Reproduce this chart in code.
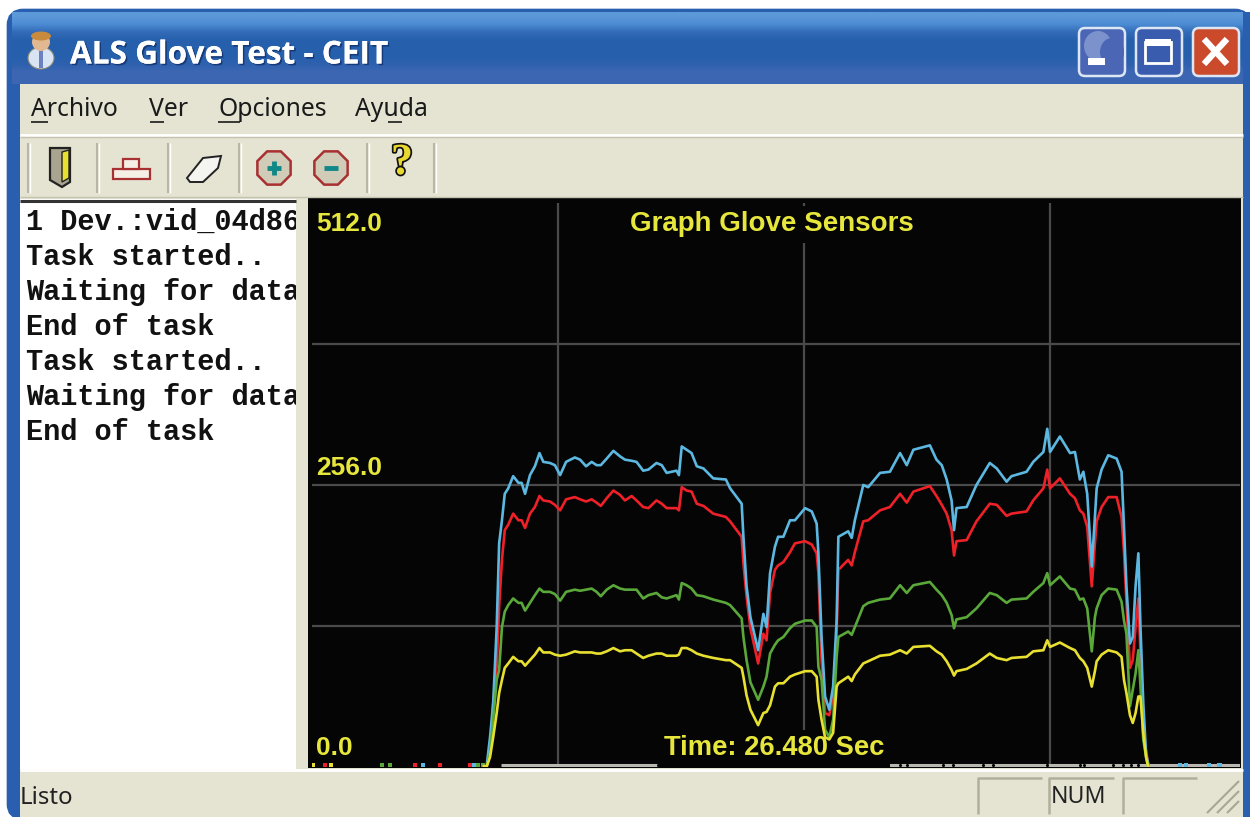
import numpy as np, pandas as pd, matplotlib
matplotlib.use("Agg")
import matplotlib.pyplot as plt, seaborn as sns
import matplotlib.patheffects as pe
from matplotlib.patches import Rectangle, Circle, Polygon, FancyBboxPatch, RegularPolygon, Ellipse

time_s = [4.9,4.98,5.08,5.17,5.27,5.34,5.42,5.50,5.60,5.74,5.89,5.98,6.08,6.22,6.36,6.49,6.60,6.79,6.93,7.08,7.25,7.50,7.65,7.82,7.98,8.12,8.24,8.41,8.60,8.79,8.93,9.12,9.26,9.45,9.60,9.83,9.98,10.12,10.40,10.47,10.55,10.69,10.83,10.98,11.17,11.45,11.81,11.93,12.26,12.31,12.40,12.51,12.73,12.88,12.97,13.07,13.21,13.30,13.45,13.64,13.78,14.07,14.26,14.40,14.45,14.54,14.64,14.76,14.87,14.97,15.02,
 15.30,15.40,15.49,15.73,15.87,16.21,16.49,16.78,16.97,17.16,17.63,17.82,17.97,18.11,18.25,18.32,18.39,18.68,18.96,19.34,19.54,19.82,19.96,20.39,20.58,20.87,20.98,21.06,21.34,21.63,21.77,21.91,22.01,22.12,22.25,22.34,22.39,22.53,22.72,22.96,23.10,23.17,23.24,23.34,23.42,23.50,23.58,23.64,23.72,23.80,23.86]
sensor_blue = [1,0,27,58,127,203,224,248,253,264,258,258,248,265,273,285,277,276,274,265,277,281,279,273,277,274,274,280,287,282,279,278,277,269,270,276,274,267,269,265,291,288,285,273,271,262,261,253,239,209,164,136,106,139,127,176,200,209,209,224,224,235,232,221,194,118,64,52,73,133,209,
 214,208,224,256,254,267,268,285,274,288,292,279,274,261,242,215,235,236,256,276,271,259,264,268,277,286,307,286,300,285,286,261,268,248,182,227,253,270,283,280,268,218,164,112,118,164,194,127,58,12,3]
sensor_red = [1,0,12,58,91,146,188,215,220,230,224,224,217,230,236,246,242,241,238,233,243,245,243,241,243,240,237,244,251,247,242,246,242,236,235,242,239,235,235,233,254,251,250,239,237,230,227,223,209,185,155,126,94,121,115,158,179,183,186,195,203,205,202,194,176,97,49,47,64,121,179,
 188,183,195,223,224,233,236,248,240,250,255,246,238,230,215,192,205,206,223,239,238,228,230,232,242,253,270,253,262,248,244,233,230,218,164,203,223,236,245,245,227,195,150,90,97,127,153,103,27,15,2]
sensor_green = [1,0,12,43,79,88,127,141,147,153,149,149,142,149,156,162,159,159,157,151,159,161,160,161,162,159,155,161,165,162,161,161,161,153,156,158,154,153,156,152,167,165,162,156,155,152,149,147,135,118,97,77,61,73,82,103,111,115,118,126,130,133,133,127,91,79,34,27,43,100,118,
 123,120,127,146,149,152,153,165,158,165,168,161,156,149,138,126,134,136,144,158,156,149,152,153,159,167,176,165,173,162,161,152,153,144,105,136,144,156,162,161,150,133,121,55,70,85,106,73,25,9,0]
sensor_yellow = [1,0,9,27,49,67,79,90,94,100,96,96,92,97,102,108,104,104,102,101,102,105,104,104,104,103,103,105,108,105,106,106,103,99,101,103,103,101,101,102,108,108,106,103,101,99,97,97,90,82,65,52,38,49,50,56,73,76,76,82,84,87,87,82,61,43,27,25,31,73,76,
 82,78,84,94,96,101,102,106,103,109,110,105,102,96,88,83,87,89,94,103,99,97,99,100,105,106,115,109,113,108,106,99,96,90,73,87,96,102,106,104,100,79,67,47,40,49,64,64,31,9,0]
series_names = ["red","blue","green","yellow"]
series_colors = ["#ee2028","#5cb8e0","#5aa83a","#e8e030"]
# small blips along the zero line
blip_t = [0.03,0.37,0.54,2.0,2.23,2.94,3.17,3.65,4.51,4.62,4.74,4.88,24.76,24.94,25.6,25.9]
blip_c = ["yellow","red","yellow","green","green","red","blue","red","red","blue","green","green","blue","blue","blue","blue"]
gap_t = [9.87,10.41,10.96,11.58,11.93,12.21,12.72,13.23,13.89,14.18,15.0,15.26,15.4,16.12,16.35,16.77,16.97,18.0,18.29,19.14,19.43,20.97,21.91,22.03,22.85,23.14,23.37,23.57]
log_lines = ["1 Dev.:vid_04d86","Task started..","Waiting for data","End of task","Task started..","Waiting for data","End of task"]
menu_items = ["Archivo","Ver","Opciones","Ayuda"]
y_labels = ["512.0","256.0","0.0"]
status_text = "Listo"
BG="#e5e4d3"; YEL="#e6e63c"; GRID="#4a4a4a"

sns.set_theme(style="white")
fig = plt.figure(figsize=(12.5,8.17), dpi=100, facecolor="white")
ch = fig.add_axes([0,0,1,1]); ch.set_xlim(0,1250); ch.set_ylim(817,0); ch.axis("off")

def R(x0,y0,x1,y1,c,ec="none",lw=0,z=1,**k):
    ch.add_patch(Rectangle((x0,y0),x1-x0,y1-y0,fc=c,ec=ec,lw=lw,zorder=z,**k))
def L(xs,ys,c,lw=1.5,z=3):
    ch.plot(xs,ys,color=c,lw=lw,zorder=z,solid_capstyle="butt")

# window frame
ch.add_patch(FancyBboxPatch((15,17),1228,795,boxstyle="round,pad=0,rounding_size=8",fc="#2a5fb0",ec="#2a5fb0",lw=12,zorder=0.5))
grad=np.array([[0.36,0.60,0.85],[0.30,0.55,0.83],[0.20,0.42,0.72],[0.15,0.38,0.68],[0.15,0.38,0.68],[0.15,0.38,0.68],[0.18,0.38,0.68],[0.24,0.40,0.70],[0.24,0.40,0.70]])[:,None,:]
ch.imshow(grad,extent=(12,1243,84,12),aspect="auto",zorder=0.8,interpolation="bilinear")
ch.set_xlim(0,1250); ch.set_ylim(817,0)
R(20,84,1243,817,BG)
L([20,1243],[135,135],"white",2); L([20,1243],[137,137],"#c4c3b0",1)
L([20,1243],[197,197],"#c4c3b0",1)

# title bar
ch.add_patch(Ellipse((41,58),26,22,fc="#d8e4f4",ec="#8a8a7a",lw=0.8,zorder=3)); R(39,50,43,68,"#6a80c0",z=4)
ch.add_patch(Circle((41,42),9,fc="#e2b890",ec="none",zorder=4))
ch.add_patch(Ellipse((41,36),20,9,fc="#c88a3c",ec="none",zorder=5))
ch.text(70,55,"ALS Glove Test - CEIT",family="Open Sans",weight="bold",fontsize=22.7,color="white",va="center",zorder=5,
        path_effects=[pe.withSimplePatchShadow(offset=(1.2,-1.2),shadow_rgbFace="#12306a",alpha=0.8),pe.Normal()])
for x0,fc in [(1077,"#4a66b4"),(1134,"#3a5cae"),(1191,"#cc4a2c")]:
    ch.add_patch(FancyBboxPatch((x0+2,28),46,48,boxstyle="round,pad=0,rounding_size=6",fc=fc,ec="#dde6f4",lw=1.8,zorder=3))
ch.add_patch(Ellipse((1098,46),28,30,fc="#7c92cc",ec="none",zorder=3.5)); ch.add_patch(Ellipse((1112,52),24,28,fc="#4a66b4",ec="none",zorder=3.6))
R(1088,58,1105,65,"white",z=4)
R(1145,42,1171,63,"none",ec="white",lw=2,z=4); R(1145,39,1171,46,"white",z=4)
L([1204,1227],[39,64],"white",4.5,4); L([1204,1227],[64,39],"white",4.5,4)

# menu
menu_x=[31,149,218,355]
for s,x in zip(menu_items,menu_x):
    ch.text(x,109,s,family="Noto Sans",fontsize=17.8,color="#1a1a1a",va="center",zorder=5)
for x0,x1 in [(31,48),(150,164),(218,240),(388,402)]:
    L([x0,x1],[122,122],"#1a1a1a",1.2)

# toolbar
for x in [28,97,168,239,367,434]:
    L([x,x],[143,193],"#b8b7a4",1.5); L([x+2,x+2],[143,193],"white",1)
ch.add_patch(Polygon([(50,148),(70,148),(70,182),(62,187),(50,180)],fc="#a8a490",ec="#222",lw=1.6,zorder=4))
ch.add_patch(Polygon([(62,152),(69,150),(69,178),(62,182)],fc="#e8e030",ec="#222",lw=1,zorder=5))
R(113,169,150,179,"#f4f0e6",ec="#a83030",lw=1.6,z=4); R(123,159,139,169,"#f4f0e6",ec="#a83030",lw=1.6,z=4)
ch.add_patch(Polygon([(187,178),(203,158),(221,156),(218,168),(203,182),(190,182)],fc="#f4f4f0",ec="#222",lw=1.4,zorder=4))
for cx in (274,331):
    ch.add_patch(RegularPolygon((cx,168),8,radius=18,orientation=np.pi/8,fc="#d0ccb8",ec="#a83030",lw=1.8,zorder=4))
    L([cx-7,cx+7],[168,168],"#108888",3.5,5)
L([274,274],[161,175],"#108888",3.5,5)
tq=ch.text(402,163,"?",family="Liberation Serif",weight="bold",fontsize=32,color="#e8d830",ha="center",va="center",zorder=5)
tq.set_path_effects([pe.withStroke(linewidth=2.5,foreground="#111")])

# log panel
R(20,199,296,769,"white"); L([20,296],[201,201],"#333",2.2)
clip=Rectangle((20,199),276,570,transform=ch.transData)
for i,s in enumerate(log_lines):
    t=ch.text(26,222+35*i,s,family="Liberation Mono",weight="bold",fontsize=20.6,color="#111",va="center",zorder=5)
    t.set_clip_on(True)
    t.set_clip_path(clip)

# status bar
R(308,198,1241,768,"#050505",z=1)
L([20,1243],[770,770],"white",2)
ch.text(20,798,status_text,family="Noto Sans",fontsize=17.3,color="#222",va="center",zorder=5)
for x0,x1 in [(978,1042),(1049,1114),(1123,1197)]:
    L([x0,x0,x1],[814,778,778],"#b0af9c",1.8)
ch.text(1051,797,"NUM",family="Noto Sans",fontsize=16.6,color="#222",va="center",zorder=5)
for d in (8,18,28):
    L([1243-d-8,1243-4],[813,813-d-4],"#a8a794",1.5)
R(1243,12,1250,817,"#2a5fb0",z=0.9)

# data axes
ax = fig.add_axes([312/1250,1-767/817,(1240-312)/1250,(767-203)/817], facecolor="#050505")
ax.set_xlim(0,26.48); ax.set_ylim(0,512)
ax.set_xticks([7.02,14.04,21.06]); ax.set_yticks([128,256,384])
ax.grid(True,color=GRID,lw=1.6); ax.set_axisbelow(True)
ax.tick_params(length=0,labelbottom=False,labelleft=False)
sns.despine(ax=ax,left=True,right=True,top=True,bottom=True)
df = pd.DataFrame({"time":time_s,"red":sensor_red,"blue":sensor_blue,"green":sensor_green,"yellow":sensor_yellow}).melt("time",var_name="sensor",value_name="value")
pal=dict(zip(series_names,series_colors))
sns.lineplot(data=df,x="time",y="value",hue="sensor",hue_order=series_names,palette=pal,
             estimator=None,sort=False,lw=1.9,legend=False,ax=ax,zorder=4)
ax.set_xlabel(""); ax.set_ylabel("")
ax.plot([5.4,26.48],[1.5,1.5],color="#b8b8b0",lw=2.2,zorder=2,solid_capstyle="butt")
ax.scatter(gap_t,[2.0]*len(gap_t),s=5,color="#050505",marker="o",lw=0,zorder=2.5)
ax.scatter(blip_t,[1.8]*len(blip_t),s=10,c=[pal[c] for c in blip_c],marker="s",lw=0,zorder=3)
tk=dict(family="Liberation Sans",weight="bold",color=YEL,va="center",zorder=3)
box=dict(fc="#050505",ec="none",pad=4)
for s,v in zip(y_labels,[493,271,17]):
    ax.text(0.12,v,s,fontsize=19,**tk)
ax.text(13.13,492.5,"Graph Glove Sensors",ha="center",bbox=box,fontsize=20,**tk)
ax.text(13.2,17,"Time: 26.480 Sec",ha="center",bbox=box,fontsize=19.7,**tk)
fig.savefig("out.png",dpi=100,facecolor="white")
